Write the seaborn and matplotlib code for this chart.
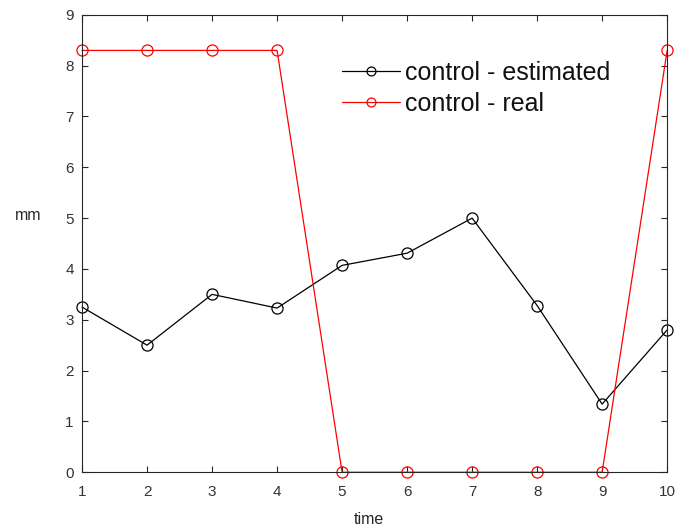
import numpy as np
import pandas as pd
import matplotlib
matplotlib.use("Agg")
import matplotlib.pyplot as plt
import seaborn as sns

time = [1, 2, 3, 4, 5, 6, 7, 8, 9, 10]
estimated = [3.25, 2.5, 3.5, 3.23, 4.07, 4.31, 5.0, 3.28, 1.34, 2.8]
real = [8.3, 8.3, 8.3, 8.3, 0, 0, 0, 0, 0, 8.3]
series_names = ["control - estimated", "control - real"]
series_colors = ["#000000", "#ff0000"]
x_ticks = [1, 2, 3, 4, 5, 6, 7, 8, 9, 10]
y_ticks = [0, 1, 2, 3, 4, 5, 6, 7, 8, 9]

df = pd.DataFrame({
    "time": time * 2,
    "value": estimated + real,
    "series": [series_names[0]] * len(time) + [series_names[1]] * len(time),
})

sns.set_theme(style="white")
plt.rcParams["font.family"] = ["Liberation Sans", "DejaVu Sans"]

fig = plt.figure(figsize=(6.78, 5.30), dpi=100)
ax = fig.add_axes([0.121, 0.109, 0.863, 0.863])

for name, color in zip(series_names, series_colors):
    sub = df[df["series"] == name]
    sns.lineplot(data=sub, x="time", y="value", ax=ax, color=color,
                 marker="o", markersize=8, markerfacecolor="none",
                 markeredgecolor=color, markeredgewidth=0.9,
                 linewidth=0.9, label=name, clip_on=False)

ax.set_xlim(1, 10)
ax.set_ylim(0, 9)
ax.set_xticks(x_ticks)
ax.set_yticks(y_ticks)
ax.tick_params(direction="in", length=4, width=0.8, color="#262626",
               labelsize=11, labelcolor="#333333",
               top=True, right=True, bottom=True, left=True)
ax.tick_params(axis="x", pad=9)
ax.tick_params(axis="y", pad=6)
for s in ax.spines.values():
    s.set_color("#262626")
    s.set_linewidth(0.8)
    s.set_visible(True)

ax.set_xlabel("time", fontsize=11.5, color="#262626")
ax.xaxis.set_label_coords(0.49, -0.088)
ax.set_ylabel("mm", fontsize=11.5, color="#262626", rotation=0)
ax.yaxis.set_label_coords(-0.092, 0.545)

leg = ax.legend(loc="upper left", bbox_to_anchor=(0.445, 0.90), frameon=False,
                fontsize=18, handlelength=2.3, handletextpad=0.2,
                labelspacing=0.3, borderaxespad=0, borderpad=0,
                markerscale=0.8)
for t in leg.get_texts():
    t.set_color("#111111")

fig.savefig("out.png", dpi=100)
